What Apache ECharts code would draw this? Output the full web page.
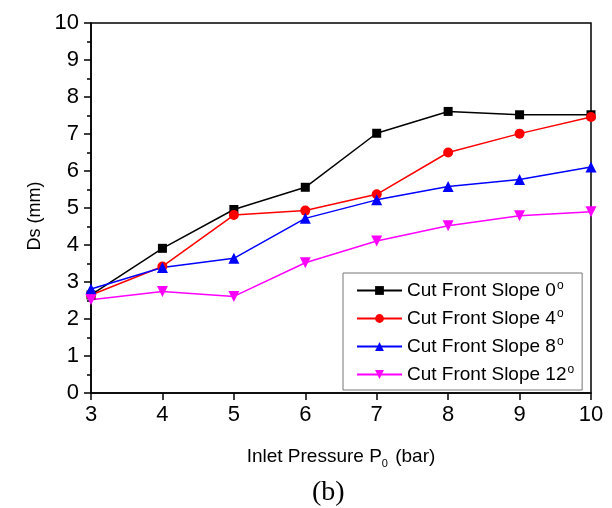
<!DOCTYPE html>
<html>
<head>
<meta charset="utf-8">
<script src="https://cdn.jsdelivr.net/npm/echarts@6/dist/echarts.min.js"></script>
<style>
    html, body { margin: 0; padding: 0; background: #fff; }
    #mainChart { width: 612px; height: 508px; }
</style>
</head>
<body>
<div id="mainChart"></div>
<script>
    // inlet pressure P0 (bar)
    var pressure = [3, 4, 5, 6, 7, 8, 9, 10];
    // Ds (mm) for each cut front slope
    var slope0 = [2.65, 3.91, 4.96, 5.56, 7.02, 7.61, 7.52, 7.52];
    var slope4 = [2.65, 3.42, 4.81, 4.93, 5.37, 6.50, 7.01, 7.46];
    var slope8 = [2.81, 3.39, 3.64, 4.72, 5.22, 5.58, 5.77, 6.11];
    var slope12 = [2.52, 2.74, 2.61, 3.52, 4.11, 4.52, 4.79, 4.90];
    var seriesNames = ["Cut Front Slope 0", "Cut Front Slope 4", "Cut Front Slope 8", "Cut Front Slope 12"];

    var font = "Liberation Sans, Arial, sans-serif";

    function pairs(ys) {
        return pressure.map(function (x, i) { return [x, ys[i]]; });
    }

    //series styles
    var styles = [
        { color: "#000000", symbol: "rect", size: 9, rotate: 0 },
        { color: "#ff0000", symbol: "circle", size: 10, rotate: 0 },
        { color: "#0000ff", symbol: "triangle", size: 11, rotate: 0 },
        { color: "#ff00ff", symbol: "triangle", size: 11, rotate: 180 }
    ];
    var allData = [slope0, slope4, slope8, slope12];

    var series = allData.map(function (d, i) {
        var s = styles[i];
        return {
            name: seriesNames[i],
            type: "line",
            data: pairs(d),
            symbol: s.symbol,
            symbolSize: s.size,
            symbolRotate: s.rotate,
            showAllSymbol: true,
            itemStyle: { color: s.color },
            lineStyle: { color: s.color, width: 1.5 },
            animation: false
        };
    });

    var chart = echarts.init(document.getElementById("mainChart"));
    chart.setOption({
        backgroundColor: "#fff",
        animation: false,
        grid: {
            left: 91, top: 23, right: 21, bottom: 115,
            show: true, borderColor: "#000", borderWidth: 1.5, backgroundColor: "transparent"
        },
        legend: {
            orient: "vertical",
            left: 343, top: 273,
            padding: [7, 8, 5, 13],
            itemGap: 7,
            itemWidth: 45,
            itemHeight: 11,
            borderColor: "#777",
            borderWidth: 1,
            borderRadius: 0,
            backgroundColor: "#fff",
            data: seriesNames,
            formatter: function (name) { return name + "{sup|o}"; },
            textStyle: {
                fontFamily: font, fontSize: 19, color: "#000", lineHeight: 21,
                rich: {
                    sup: { fontFamily: font, fontSize: 12, color: "#000", verticalAlign: "top", padding: [0, 0, 10, 1] }
                }
            }
        },
        xAxis: {
            type: "value",
            min: 3, max: 10, interval: 1,
            name: "Inlet Pressure P{sub|0} (bar)",
            nameLocation: "middle",
            nameGap: 51,
            nameTextStyle: {
                fontFamily: font, fontSize: 19, color: "#000",
                rich: { sub: { fontFamily: font, fontSize: 11, color: "#000", padding: [14, 2, 0, 0] } }
            },
            axisLine: { lineStyle: { color: "#000", width: 1.5 } },
            axisTick: { show: true, inside: false, length: 7, lineStyle: { color: "#000", width: 1.5 } },
            axisLabel: { fontFamily: font, fontSize: 22, color: "#000", margin: 11 },
            splitLine: { show: false }
        },
        yAxis: {
            type: "value",
            min: 0, max: 10, interval: 1,
            name: "Ds (mm)",
            nameLocation: "middle",
            nameGap: 47,
            nameTextStyle: { fontFamily: font, fontSize: 18, color: "#000", padding: [0, 16, 0, 0] },
            axisLine: { show: true, lineStyle: { color: "#000", width: 1.5 } },
            axisTick: { show: true, inside: false, length: 7, lineStyle: { color: "#000", width: 1.5 } },
            minorTick: { show: true, splitNumber: 2, length: 4, lineStyle: { color: "#000", width: 1.5 } },
            axisLabel: { fontFamily: font, fontSize: 22, color: "#000", margin: 12 },
            splitLine: { show: false }
        },
        graphic: [{
            type: "text",
            left: 312, top: 479,
            style: { text: "(b)", fontFamily: "Liberation Serif, Times New Roman, serif", fontSize: 28, fill: "#000" }
        }],
        series: series
    });
</script>
</body>
</html>
